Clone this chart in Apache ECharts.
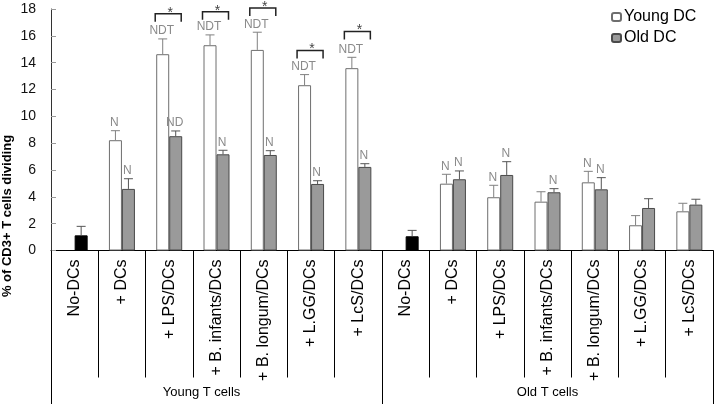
<!DOCTYPE html>
<html>
<head>
<meta charset="utf-8">
<script src="https://cdn.jsdelivr.net/npm/echarts@6/dist/echarts.min.js"></script>
<style>
html,body{margin:0;padding:0;background:#fff;}
#chart{width:714px;height:404px;}
</style>
</head>
<body>
<div id="chart"></div>
<script>
// ---- data ----
var categories = ['No-DCs', '+ DCs', '+ LPS/DCs', '+ B. infants/DCs', '+ B. longum/DCs', '+ L.GG/DCs', '+ LcS/DCs',
                  'No-DCs', '+ DCs', '+ LPS/DCs', '+ B. infants/DCs', '+ B. longum/DCs', '+ L.GG/DCs', '+ LcS/DCs'];
var groups = ['Young T cells', 'Old T cells'];
var yTicks = [0, 2, 4, 6, 8, 10, 12, 14, 16, 18];

var youngDC  = [null, 8.22, 14.63, 15.30, 14.95, 12.32, 13.59, null, 4.98, 3.97, 3.64, 5.08, 1.88, 2.92];
var youngErr = [null, 0.71, 1.14, 0.77, 1.32, 0.79, 0.81, null, 0.70, 0.89, 0.74, 0.82, 0.72, 0.60];
var oldDC    = [1.13, 4.59, 8.52, 7.17, 7.12, 4.96, 6.23, 1.06, 5.31, 5.63, 4.34, 4.56, 3.17, 3.42];
var oldErr   = [0.67, 0.76, 0.39, 0.30, 0.32, 0.24, 0.24, 0.44, 0.62, 0.99, 0.27, 0.87, 0.69, 0.40];
var youngSig = ['', 'N', 'NDT', 'NDT', 'NDT', 'NDT', 'NDT', '', 'N', 'N', '', 'N', '', ''];
var oldSig   = ['', 'N', 'ND', 'N', 'N', 'N', 'N', '', 'N', 'N', 'N', 'N', '', ''];
var noDCIndex = [0, 7];           // control bars drawn in black
var bracketCats = [2, 3, 4, 5, 6];
var bracketLevel = [17.64, 17.80, 18.08, 14.90, 16.32];

// ---- build ----
var FONT = 'Liberation Sans, Arial, sans-serif';
var BAR_W = 13;

var oldData = oldDC.map(function (v, i) {
  if (noDCIndex.indexOf(i) >= 0) return { value: v, itemStyle: { color: '#000', borderColor: '#000' } };
  return v;
});
var youngData = youngDC.map(function (v) { return v == null ? '-' : v; });

function errData(vals, errs, sigs) {
  var out = [];
  vals.forEach(function (v, i) {
    if (v == null) return;
    out.push([i, v, v + errs[i], sigs[i]]);
  });
  return out;
}

function errRender(side, color) {
  return function (params, api) {
    var cat = api.value(0);
    var base = api.coord([cat, api.value(1)]);
    var top = api.coord([cat, api.value(2)]);
    var x = base[0] + side * BAR_W / 2;
    var label = params.dataIndex != null ? params.context : null;
    var sig = errSig[side][params.dataIndex];
    var children = [
      { type: 'line', shape: { x1: x, y1: base[1], x2: x, y2: top[1] }, style: { stroke: color, lineWidth: 1 } },
      { type: 'line', shape: { x1: x - 4.5, y1: top[1], x2: x + 4.5, y2: top[1] }, style: { stroke: color, lineWidth: 1 } }
    ];
    if (sig) {
      children.push({ type: 'text', x: x - 1, y: top[1] - 2,
        style: { text: sig, fill: '#8a8a8a', fontSize: 12, fontFamily: FONT, align: 'center', verticalAlign: 'bottom' } });
    }
    return { type: 'group', children: children };
  };
}

var youngErrData = errData(youngDC, youngErr, youngSig);
var oldErrData = errData(oldDC, oldErr, oldSig);
var errSig = {};
errSig[-1] = youngErrData.map(function (d) { return d[3]; });
errSig[1] = oldErrData.map(function (d) { return d[3]; });

var bracketData = bracketCats.map(function (c, i) { return [c, bracketLevel[i]]; });

var chart = echarts.init(document.getElementById('chart'), null, { renderer: 'canvas' });
chart.setOption({
  animation: false,
  backgroundColor: '#fff',
  textStyle: { fontFamily: FONT },
  grid: { left: 51, right: 1, top: 9, bottom: 153.5, containLabel: false },
  legend: {
    data: ['Young DC', 'Old DC'],
    orient: 'vertical', left: 606, top: 4,
    itemWidth: 9, itemHeight: 8, itemGap: 5,
    textStyle: { fontSize: 16, color: '#000', fontFamily: FONT, padding: [0, 0, 0, -2] }
  },
  xAxis: [{
    type: 'category', data: categories,
    axisLine: { show: true, lineStyle: { color: '#000', width: 1 } },
    axisTick: { show: true, interval: 0, length: 127, lineStyle: { color: '#000' } },
    axisLabel: { interval: 0, rotate: 90, margin: 9, fontSize: 16, color: '#000', fontFamily: FONT }
  }, {
    type: 'category', data: groups, position: 'bottom',
    axisLine: { show: false },
    axisTick: { show: true, interval: 0, length: 154, lineStyle: { color: '#000' } },
    axisLabel: {
      interval: 0, margin: 135, fontSize: 13, color: '#000', fontFamily: FONT,
      formatter: function (v, i) { return i === 0 ? '{a|' + v + '}' : v; },
      rich: { a: { fontSize: 13, fontFamily: FONT, color: '#000', padding: [0, 30, 0, 0] } }
    }
  }],
  yAxis: {
    type: 'value', min: yTicks[0], max: yTicks[yTicks.length - 1], interval: yTicks[1] - yTicks[0],
    axisLine: { show: true, lineStyle: { color: '#333' } },
    axisTick: { show: true, inside: true, length: 5, lineStyle: { color: '#999' } },
    axisLabel: { margin: 15, fontSize: 14, color: '#111', fontFamily: FONT },
    splitLine: { show: false }
  },
  graphic: [{
    type: 'text', x: 7, y: 216, rotation: Math.PI / 2,
    style: { text: '% of CD3+ T cells dividing', fontSize: 13, fontWeight: 'bold', fontFamily: FONT,
             fill: '#000', align: 'center', verticalAlign: 'middle' }
  }],
  series: [{
    name: 'Young DC', type: 'bar', data: youngData, barWidth: BAR_W, barGap: '0%',
    itemStyle: { color: '#fff', borderColor: '#6e6e6e', borderWidth: 1 }
  }, {
    name: 'Old DC', type: 'bar', data: oldData, barWidth: BAR_W, barGap: '0%',
    itemStyle: { color: '#9a9a9a', borderColor: '#4a4a4a', borderWidth: 1 }
  }, {
    type: 'custom', data: youngErrData, clip: false, silent: true, z: 5,
    encode: { x: 0, y: 2 }, renderItem: errRender(-1, '#808080')
  }, {
    type: 'custom', data: oldErrData, clip: false, silent: true, z: 5,
    encode: { x: 0, y: 2 }, renderItem: errRender(1, '#555')
  }, {
    type: 'custom', data: bracketData, clip: false, silent: true, z: 6,
    encode: { x: 0, y: 1 },
    renderItem: function (params, api) {
      var p = api.coord([api.value(0), api.value(1)]);
      var x0 = p[0] - 14, x1 = p[0] + 12, y = p[1];
      return { type: 'group', children: [
        { type: 'polyline', shape: { points: [[x0, y + 8], [x0, y], [x1, y], [x1, y + 8]] },
          style: { stroke: '#222', lineWidth: 1.5, fill: null } },
        { type: 'text', x: p[0] + 1, y: y - 1,
          style: { text: '*', fill: '#444', fontSize: 14, fontFamily: FONT, align: 'center', verticalAlign: 'middle' } }
      ] };
    }
  }]
});
</script>
</body>
</html>
